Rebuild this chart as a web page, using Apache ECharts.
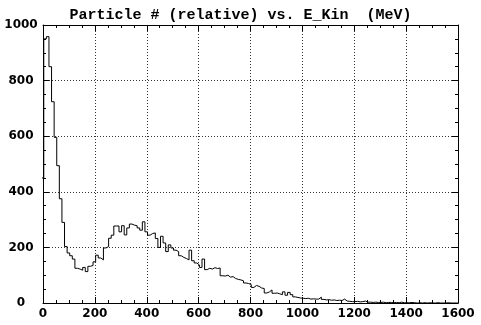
<!DOCTYPE html>
<html>
<head>
<meta charset="utf-8">
<title>Particle # vs E_Kin</title>
<script src="https://cdn.jsdelivr.net/npm/echarts@6/dist/echarts.min.js"></script>
<style>
  html, body { margin: 0; padding: 0; background: #fff; }
  #chart { width: 481px; height: 325px; }
</style>
</head>
<body>
<div id="chart"></div>
<script>
"use strict";

/* =====================================================
   数据（直方图，每格 10 MeV）
   ===================================================== */
const TITLE = "Particle # (relative) vs. E_Kin  (MeV)";
const FIRST_EDGE = -7;   // 第一格左边界 (MeV)
const BIN_WIDTH  = 10;   // MeV

const counts = [
  450, 950, 958, 850, 724, 596, 494, 375, 290, 203,
  180, 170, 158, 125, 122, 118, 128, 113, 132, 135,
  148, 172, 162, 155, 198, 203, 233, 244, 277, 277,
  256, 278, 245, 270, 284, 280, 278, 270, 262, 292,
  256, 244, 250, 252, 232, 200, 240, 216, 185, 209,
  198, 190, 185, 170, 164, 160, 155, 190, 152, 144,
  137, 128, 158, 120, 125, 122, 127, 124, 126, 98,
  97, 100, 93, 95, 88, 85, 83, 80, 72, 70,
  66, 56, 63, 60, 54, 52, 36, 40, 47, 35,
  36, 33, 30, 40, 28, 38, 30, 22, 20, 18,
  17, 16, 17, 14, 15, 14, 14, 21, 13, 11,
  12, 10, 11, 9, 10, 9, 14, 7, 6, 5,
  5, 6, 4, 5, 7, 3, 3, 2, 3, 2,
  2, 3, 1, 2, 2, 1, 2, 1, 3, 1,
  1, 1, 2, 1, 0, 1, 0, 1, 0, 1,
  0, 0, 1, 0, 0, 0, 1, 0, 0, 0,
  0
];

const xTicks = [0, 200, 400, 600, 800, 1000, 1200, 1400, 1600];
const yTicks = [0, 200, 400, 600, 800, 1000];

/* =====================================================
   图表
   ===================================================== */
document.addEventListener("DOMContentLoaded", () => {
  renderChart();
});

function histPoints() {
  // 每格左边界一个点，最后补右边界，配合 step: "end"
  const pts = counts.map((c, i) => [FIRST_EDGE + i * BIN_WIDTH, c]);
  pts.push([FIRST_EDGE + counts.length * BIN_WIDTH, counts[counts.length - 1]]);
  return pts;
}

function frameAxis(extra) {
  return Object.assign({
    type: "value",
    axisLine: { show: true, onZero: false, lineStyle: { color: "#000", width: 1 } },
    axisTick: { show: true, inside: true, length: 6, lineStyle: { color: "#000" } },
    minorTick: { show: true, splitNumber: 4, length: 3, lineStyle: { color: "#000" } },
    splitLine: { show: false },
    axisLabel: { show: false }
  }, extra);
}

function renderChart() {
  const dom = document.getElementById("chart");
  const chart = echarts.init(dom, null, { renderer: "canvas" });

  const labelFont = {
    color: "#000", fontFamily: "DejaVu Sans", fontWeight: "bold", fontSize: 12,
    formatter: v => String(v)   // 不要千分位
  };
  const gridDots = { show: true, lineStyle: { color: "#333", width: 1, type: [1, 2] } };

  const xRange = { min: xTicks[0], max: xTicks[xTicks.length - 1], interval: 200 };
  const yRange = { min: yTicks[0], max: yTicks[yTicks.length - 1], interval: 200 };

  const option = {
    backgroundColor: "#fff",
    animation: false,
    title: {
      text: TITLE,
      left: "center",
      top: 3,
      textStyle: { fontFamily: "Liberation Mono", fontWeight: "bold", fontSize: 15, color: "#000" }
    },
    grid: { left: 43, right: 23, top: 25, bottom: 22 },
    xAxis: [
      frameAxis(Object.assign({
        position: "bottom",
        splitLine: gridDots,
        axisLabel: Object.assign({ show: true, margin: 5 }, labelFont)
      }, xRange)),
      frameAxis(Object.assign({ position: "top" }, xRange))
    ],
    yAxis: [
      frameAxis(Object.assign({
        position: "left",
        splitLine: gridDots,
        axisLabel: Object.assign({ show: true, margin: 22, align: "center" }, labelFont)
      }, yRange)),
      frameAxis(Object.assign({ position: "right" }, yRange))
    ],
    series: [{
      type: "line",
      step: "end",
      data: histPoints(),
      symbol: "none",
      clip: true,
      lineStyle: { color: "#000", width: 1 }
    }]
  };
  chart.setOption(option);
}
</script>
</body>
</html>
